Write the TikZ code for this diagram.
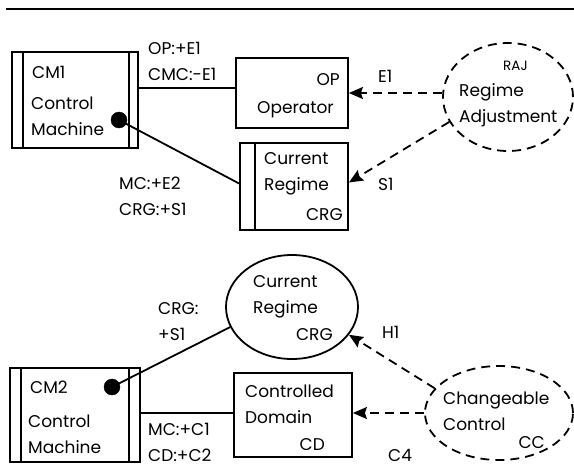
\documentclass[tikz,border=0pt]{standalone}
\usepackage{fontspec}
\setmainfont{Poppins}
\usepackage{tikz}
\usetikzlibrary{arrows.meta,shapes.geometric}

\begin{document}
\begin{tikzpicture}[x=1pt,y=-1pt]
        \tikzset{box/.style = {shape=rectangle,draw,line width=1.8pt,inner sep=0pt}}
        \tikzset{oval/.style = {shape=ellipse,draw,line width=1.8pt,inner sep=0pt}}
        \tikzset{dynoval/.style = {oval,dash pattern=on 9pt off 6pt}}
        \tikzset{dot/.style = {shape=circle,fill=black,draw,inner sep=0pt,minimum size=16pt}}
        \tikzset{txt/.style = {font=\fontsize{17}{25.5}\selectfont,inner sep=0pt,align=left,anchor=base west}}
        \tikzset{small/.style = {txt,font=\fontsize{13.5}{16}\selectfont}}
        \tikzset{edge/.style = {-,line width=1.8pt}}
        \tikzset{flow/.style = {line width=1.8pt,dash pattern=on 9pt off 6pt,-{Stealth[length=14pt,width=12pt,inset=2pt]}}}

        \useasboundingbox (0,0) rectangle (574,467);
        \draw[line width=1.2pt] (6,9) -- (574,9);

        % upper part
        \node[box,minimum width=126pt,minimum height=96pt] (CM1) at (75,100) {};
        \draw[edge] ([xshift=12pt]CM1.north west) -- ([xshift=12pt]CM1.south west);
        \draw[edge] ([xshift=-10pt]CM1.north east) -- ([xshift=-10pt]CM1.south east);
        \node[txt] (CM1n) at (32,78) {CM1};
        \node[txt] (CM1t) at (31,135) {Control\\Machine};

        \node[box,minimum width=112pt,minimum height=70pt] (OP) at (292,93) {};
        \node[txt,anchor=base east] (OPn) at (340,85) {OP};
        \node[txt,anchor=base east] (OPt) at (334,113) {Operator};

        \node[box,minimum width=108pt,minimum height=87pt] (CRG1) at (294,186.5) {};
        \draw[edge] ([xshift=16pt]CRG1.north west) -- ([xshift=16pt]CRG1.south west);
        \node[txt] (CRG1t) at (264,190) {Current\\Regime};
        \node[txt,anchor=base east] (CRG1n) at (343,220) {CRG};

        \node[dynoval,minimum width=130pt,minimum height=108pt] (RAJ) at (508,97) {};
        \node[small] (RAJn) at (503,70) {RAJ};
        \node[txt] (RAJt) at (459,122) {Regime\\Adjustment};

        \node[dot] (D1) at (119,120) {};

        \draw[edge] ([yshift=12pt]CM1.east) to ([yshift=5pt]OP.west);
        \draw[edge] (D1.center) to ([yshift=3pt]CRG1.west);
        \draw[flow] (RAJ.west |- OP.east) to (OP.east);
        \draw[flow] (RAJ.203) to ([yshift=4pt]CRG1.east);

        \node[txt] (L1) at (148,80) {OP:+E1\\CMC:-E1};
        \node[txt] (L2) at (119,215) {MC:+E2\\CRG:+S1};
        \node[txt] (E1) at (378,82) {E1};
        \node[txt] (S1) at (378,190) {S1};

        % lower part
        \node[box,minimum width=130pt,minimum height=94pt] (CM2) at (75,415) {};
        \draw[edge] ([xshift=12pt]CM2.north west) -- ([xshift=12pt]CM2.south west);
        \draw[edge] ([xshift=-12pt]CM2.north east) -- ([xshift=-12pt]CM2.south east);
        \node[txt] (CM2n) at (30,393) {CM2};
        \node[txt] (CM2t) at (28,453) {Control\\Machine};

        \node[oval,minimum width=132pt,minimum height=104pt] (CRG2) at (292,307) {};
        \node[txt] (CRG2t) at (253,313) {Current\\Regime};
        \node[txt,anchor=base east] (CRG2n) at (333,340) {CRG};

        \node[box,minimum width=118pt,minimum height=84pt] (CD) at (293,415) {};
        \node[txt] (CDt) at (245,423) {Controlled\\Domain};
        \node[txt,anchor=base east] (CDn) at (325,450) {CD};

        \node[dynoval,minimum width=148pt,minimum height=94pt] (CC) at (499,413) {};
        \node[txt] (CCt) at (443,430) {Changeable\\Control};
        \node[txt,anchor=base east] (CCn) at (545,448) {CC};

        \node[dot] (D2) at (112,387) {};

        \draw[edge] (D2.center) to (CRG2.198);
        \draw[edge] ([yshift=2pt]CM2.east) to ([yshift=2pt]CD.west);
        \draw[flow] (CC.west) to (CD.east |- CC.west);
        \draw[flow] (CC.159) to (CRG2.334);

        \node[txt] (L3) at (158,340) {CRG:\\+S1};
        \node[txt] (L4) at (148,461) {MC:+C1\\CD:+C2};
        \node[txt] (H1) at (382,338) {H1};
        \node[txt] (C4) at (388,461) {C4};
\end{tikzpicture}
\end{document}
